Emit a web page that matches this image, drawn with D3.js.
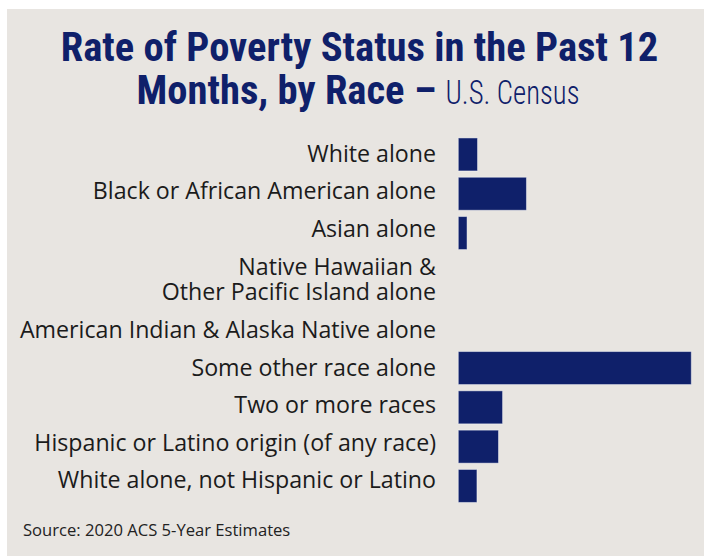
<!DOCTYPE html>
<html>
<head>
<meta charset="utf-8">
<script src="https://cdn.jsdelivr.net/npm/d3@7"></script>
<style>
  html, body { margin: 0; padding: 0; background: #fff; }
  svg { display: block; }
</style>
</head>
<body>
<div id="chart"></div>
<script>
// race categories, top to bottom (label lines split on "\n")
const categories = [
    "White alone",
    "Black or African American alone",
    "Asian alone",
    "Native Hawaiian &\nOther Pacific Island alone",
    "American Indian & Alaska Native alone",
    "Some other race alone",
    "Two or more races",
    "Hispanic or Latino origin (of any race)",
    "White alone, not Hispanic or Latino"
];
// poverty rate, percent
const rates = [3.3, 11.7, 1.5, 0, 0, 40.0, 7.6, 6.9, 3.2];
// relative row heights (the two-line label needs more room)
const barUnits = [1, 1, 1, 1.435, 1, 1, 1, 1, 1];
const labelUnits = [1, 1, 1, 1.69, 1, 1, 1, 1, 1];

const config = {
    width: 704,
    height: 556,
    bg: "#e8e5e1",
    navy: "#0f206a",
    text: "#1b1b1b",
    labelRight: 436
};

function cumulate(units) {
    let cum = [0];
    units.forEach((u, i) => cum.push(cum[i] + u));
    return cum;
}

const svg = d3.select("#chart").append("svg")
    .attr("width", config.width)
    .attr("height", config.height);

svg.append("rect")
    .attr("x", 7).attr("y", 9)
    .attr("width", config.width - 7).attr("height", config.height - 9)
    .attr("fill", config.bg);

// title
const titleFont = "'Roboto Condensed', 'Liberation Sans Narrow', 'DejaVu Sans Condensed', sans-serif";

svg.append("text")
    .attr("text-anchor", "middle")
    .attr("x", 359.5).attr("y", 61)
    .attr("fill", config.navy)
    .style("font-family", titleFont)
    .style("font-stretch", "condensed")
    .style("font-size", "40.6px").style("font-weight", 700)
    .text("Rate of Poverty Status in the Past 12");

const line2 = svg.append("text")
    .attr("text-anchor", "middle")
    .attr("x", 358).attr("y", 104)
    .attr("fill", config.navy)
    .style("font-family", titleFont)
    .style("font-stretch", "condensed")
    .style("font-size", "40.6px");
line2.append("tspan").style("font-weight", 700).text("Months, by Race \u2013 ");
line2.append("tspan")
    .style("font-weight", 300).style("font-size", "34px")
    .attr("textLength", 134).attr("lengthAdjust", "spacingAndGlyphs")
    .text("U.S. Census");

// scales
const barCum = cumulate(barUnits);
const yBar = d3.scaleLinear()
    .domain([0, barCum[barCum.length - 1]])
    .range([134.8, 134.8 + 39.3 * barCum[barCum.length - 1]]);

const labCum = cumulate(labelUnits);
const yLab = d3.scaleLinear()
    .domain([0.5, 1.5])
    .range([161.7, 161.7 + 37.6]);

const x = d3.scaleLinear()
    .domain([0, 40])
    .range([458.3, 691.3]);

const barH = 33;

const rows = svg.append("g").selectAll("g")
    .data(categories.map((c, i) => ({
        label: c,
        value: rates[i],
        barMid: (barCum[i] + barCum[i + 1]) / 2,
        labMid: (labCum[i] + labCum[i + 1]) / 2
    })))
    .join("g");

rows.filter(d => d.value > 0)
    .append("rect")
    .attr("x", x(0))
    .attr("y", d => yBar(d.barMid) - barH / 2)
    .attr("width", d => x(d.value) - x(0))
    .attr("height", barH)
    .attr("fill", config.navy)
    .attr("stroke", "rgba(255,255,255,0.45)")
    .attr("stroke-width", 1);

rows.append("text")
    .attr("text-anchor", "end")
    .attr("fill", config.text)
    .style("font-family", "'Open Sans', sans-serif")
    .style("font-size", "23.2px")
    .each(function (d) {
        const lines = d.label.split("\n");
        const t = d3.select(this);
        lines.forEach((l, k) => {
            t.append("tspan")
                .attr("x", config.labelRight)
                .attr("y", yLab(d.labMid) + (k - (lines.length - 1) / 2) * 25.7)
                .text(l);
        });
    });

// source note
svg.append("text")
    .attr("x", 23).attr("y", 536)
    .attr("fill", "#222")
    .style("font-family", "'Open Sans', sans-serif")
    .style("font-size", "16.6px")
    .text("Source: 2020 ACS 5-Year Estimates");
</script>
</body>
</html>
